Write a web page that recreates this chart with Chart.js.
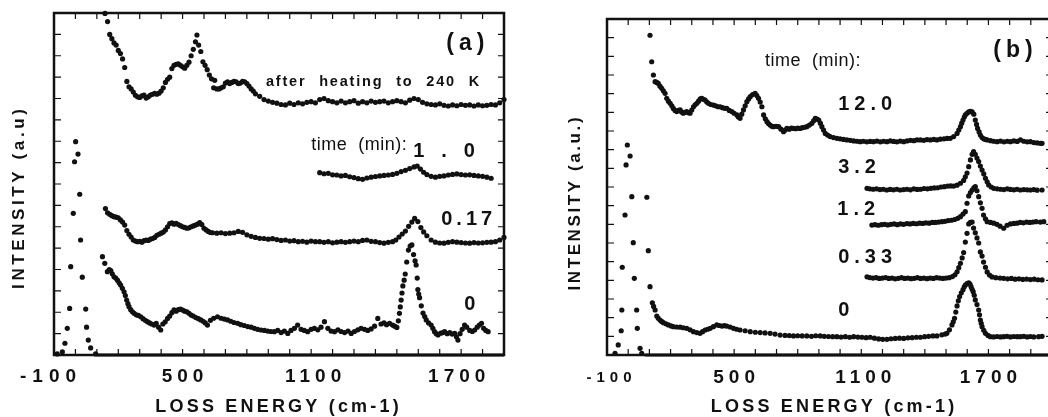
<!DOCTYPE html>
<html>
<head>
<meta charset="utf-8">
<script src="https://cdn.jsdelivr.net/npm/chart.js@4.4.0/dist/chart.umd.min.js"></script>
<style>
  html, body { margin: 0; padding: 0; background: #fff; overflow: hidden; width: 1048px; height: 417px; }
  .panel { position: absolute; top: 0; height: 417px; }
  #wrapA { left: 0; width: 520px; }
  #wrapB { left: 520px; width: 540px; }
</style>
</head>
<body>
<div class="panel" id="wrapA"><canvas id="panelA" width="520" height="417"></canvas></div>
<div class="panel" id="wrapB"><canvas id="panelB" width="540" height="417"></canvas></div>
<script>
// ---------- axis ticks ----------
const xTickValues = [-100, 500, 1100, 1700];
const xTickLabels = ['-100', '500', '1100', '1700'];

// ---------- panel (a): [loss energy cm-1, intensity a.u.] ----------
const elasticA = [[-85,0.05],[-61,0.15],[-49,0.55],[-38,1.25],[-27,2.18],[-22,4.13],[-10,6.63],[-4,9.04],[1,9.98],[12,9.4],[20,7.52],[24,5.38],[32,3.64],[48,2.15],[52,1.3],[60,0.7],[71,0.33],[94,0.05]];

const after240K = [[138,15.98],[150,15.6],[160,15.0],[170,14.8],[180,14.6],[190,14.5],[200,14.25],[210,14.1],[220,13.85],[230,13.45],[240,12.8],[250,12.55],[260,12.45],[270,12.3],[280,12.15],[290,12.08],[300,12.05],[310,12.12],[320,12.16],[330,12.02],[340,12.08],[350,12.16],[360,12.2],[370,12.24],[380,12.2],[390,12.25],[400,12.35],[410,12.5],[420,12.75],[430,12.9],[440,13.0],[450,13.4],[460,13.55],[470,13.6],[480,13.62],[490,13.55],[500,13.48],[510,13.42],[520,13.55],[530,13.7],[540,14.0],[550,14.3],[560,14.65],[567,14.97],[575,14.5],[585,14.2],[595,13.72],[605,13.55],[615,13.35],[625,13.1],[635,12.92],[645,12.5],[650,12.85],[660,12.45],[670,12.45],[680,12.5],[690,12.55],[700,12.72],[710,12.78],[720,12.7],[730,12.75],[740,12.8],[750,12.78],[760,12.7],[770,12.72],[780,12.8],[790,12.78],[800,12.7],[810,12.58],[820,12.45],[830,12.35],[840,12.22],[860,12.1],[880,11.95],[900,11.88],[920,11.82],[940,11.78],[960,11.72],[980,11.7],[1000,11.78],[1020,11.72],[1040,11.8],[1060,11.75],[1080,11.82],[1100,11.85],[1120,11.8],[1140,11.95],[1160,12.0],[1180,11.9],[1200,11.85],[1220,11.8],[1240,11.88],[1260,11.8],[1280,11.85],[1300,11.9],[1320,11.78],[1340,11.85],[1360,11.8],[1380,11.88],[1400,11.82],[1420,11.85],[1440,11.88],[1460,11.8],[1480,11.85],[1500,11.9],[1520,11.85],[1540,11.8],[1560,11.92],[1580,12.0],[1600,11.95],[1620,11.82],[1640,11.75],[1660,11.72],[1680,11.7],[1700,11.75],[1720,11.68],[1740,11.65],[1760,11.7],[1780,11.66],[1800,11.72],[1820,11.68],[1840,11.7],[1860,11.65],[1880,11.7],[1900,11.66],[1920,11.68],[1940,11.72],[1960,11.7],[1980,11.8],[2000,11.95]];

const time10A = [[1140,8.53],[1160,8.48],[1180,8.5],[1200,8.43],[1220,8.42],[1240,8.38],[1260,8.4],[1280,8.34],[1300,8.3],[1320,8.25],[1340,8.22],[1360,8.28],[1380,8.32],[1400,8.35],[1420,8.38],[1440,8.4],[1460,8.42],[1480,8.45],[1500,8.5],[1520,8.58],[1540,8.64],[1560,8.72],[1580,8.8],[1595,8.84],[1610,8.7],[1625,8.55],[1640,8.44],[1660,8.36],[1680,8.32],[1700,8.36],[1720,8.38],[1740,8.42],[1760,8.45],[1780,8.47],[1800,8.44],[1820,8.42],[1840,8.43],[1860,8.4],[1880,8.38],[1900,8.36],[1920,8.32],[1940,8.27]];

const time017A = [[140,6.85],[150,6.65],[160,6.58],[170,6.52],[180,6.47],[190,6.45],[200,6.42],[210,6.32],[220,6.22],[230,6.08],[240,5.82],[250,5.65],[260,5.52],[270,5.38],[280,5.33],[290,5.3],[300,5.32],[310,5.28],[320,5.35],[330,5.38],[340,5.36],[350,5.42],[360,5.45],[370,5.5],[380,5.6],[390,5.65],[400,5.7],[410,5.75],[420,5.85],[430,6.0],[440,6.15],[450,6.18],[460,6.12],[470,6.16],[480,6.1],[490,6.05],[500,6.0],[510,5.97],[520,5.93],[530,5.95],[540,6.0],[550,6.04],[560,6.08],[570,6.12],[580,6.2],[590,6.1],[600,5.93],[610,5.85],[620,5.78],[630,5.73],[640,5.72],[660,5.7],[680,5.72],[700,5.68],[720,5.7],[740,5.72],[760,5.78],[780,5.74],[800,5.62],[820,5.55],[840,5.5],[860,5.46],[880,5.45],[900,5.42],[920,5.44],[940,5.4],[960,5.36],[980,5.38],[1000,5.33],[1020,5.35],[1040,5.3],[1060,5.32],[1080,5.28],[1100,5.33],[1120,5.3],[1140,5.3],[1160,5.27],[1180,5.3],[1200,5.25],[1220,5.28],[1240,5.3],[1260,5.27],[1280,5.3],[1300,5.33],[1320,5.3],[1340,5.36],[1360,5.38],[1380,5.32],[1400,5.3],[1420,5.26],[1440,5.23],[1460,5.27],[1480,5.3],[1495,5.38],[1510,5.52],[1525,5.66],[1540,5.8],[1555,6.02],[1570,6.22],[1583,6.39],[1598,6.24],[1612,5.96],[1625,5.76],[1640,5.58],[1660,5.38],[1680,5.28],[1700,5.24],[1720,5.23],[1740,5.27],[1760,5.3],[1780,5.28],[1800,5.26],[1820,5.24],[1840,5.23],[1860,5.26],[1880,5.24],[1900,5.25],[1920,5.27],[1940,5.28],[1960,5.3],[1980,5.38],[2000,5.5]];

const time0A = [[126,4.6],[137,4.29],[149,3.9],[158,4.0],[165,3.95],[172,3.8],[180,3.66],[188,3.6],[196,3.5],[204,3.38],[211,3.27],[219,3.12],[227,2.96],[233,2.78],[239,2.57],[245,2.4],[250,2.26],[258,2.12],[266,2.02],[274,1.95],[284,1.88],[294,1.85],[305,1.79],[315,1.7],[326,1.62],[336,1.56],[346,1.5],[356,1.45],[367,1.4],[377,1.48],[388,1.3],[398,1.17],[408,1.45],[419,1.55],[430,1.71],[440,1.82],[450,1.98],[460,2.11],[470,2.05],[480,2.12],[490,2.15],[500,2.1],[510,2.05],[520,2.02],[530,1.95],[540,1.87],[550,1.82],[562,1.75],[574,1.7],[585,1.64],[596,1.58],[606,1.5],[616,1.4],[630,1.62],[645,1.72],[663,1.79],[680,1.72],[695,1.68],[710,1.64],[725,1.58],[740,1.52],[757,1.48],[772,1.42],[788,1.38],[804,1.33],[820,1.3],[835,1.25],[850,1.2],[866,1.17],[882,1.15],[897,1.12],[912,1.1],[928,1.09],[944,1.15],[960,1.05],[975,1.12],[991,1.01],[1006,1.15],[1022,1.25],[1037,1.4],[1053,1.2],[1068,1.15],[1084,1.09],[1100,1.2],[1115,1.25],[1131,1.18],[1146,1.3],[1162,1.56],[1178,1.25],[1193,1.12],[1209,1.09],[1225,1.18],[1240,1.1],[1256,1.05],[1272,1.12],[1287,1.01],[1302,1.1],[1318,1.18],[1333,1.25],[1349,1.2],[1364,1.15],[1380,1.22],[1396,1.35],[1411,1.71],[1426,1.45],[1440,1.5],[1452,1.42],[1466,1.48],[1480,1.4],[1490,1.35],[1500,1.29],[1507,1.6],[1512,1.95],[1516,2.25],[1520,2.57],[1524,2.9],[1528,3.23],[1534,3.5],[1539,3.79],[1546,4.35],[1554,4.91],[1562,5.1],[1570,5.15],[1578,4.7],[1585,4.4],[1590,4.21],[1595,3.6],[1598,3.06],[1602,2.85],[1606,2.68],[1614,2.3],[1622,1.96],[1630,1.8],[1637,1.64],[1648,1.5],[1660,1.4],[1668,1.25],[1676,1.09],[1684,1.0],[1692,0.94],[1705,1.02],[1715,1.05],[1723,1.09],[1735,1.0],[1747,1.05],[1758,0.98],[1770,1.01],[1778,0.85],[1785,0.7],[1795,1.0],[1805,1.2],[1816,1.4],[1826,1.3],[1840,1.15],[1852,1.1],[1863,1.17],[1875,1.3],[1885,1.4],[1895,1.48],[1905,1.25],[1915,1.15],[1926,1.09]];

const zeroLineA = [[100,0],[2000,0]];

// ---------- panel (b): [loss energy cm-1, intensity a.u.] ----------
const elasticB = [[-62,0.09],[-47,0.54],[-33,1.3],[-30,2.41],[-28,4.7],[-15,7.5],[-10,10.18],[-4,11.25],[9,10.66],[17,8.48],[24,6.02],[29,4.11],[40,2.41],[43,1.43],[56,0.36],[64,0.09]];

const time120B = [[103,17.13],[111,15.71],[119,15.0],[127,14.64],[135,14.6],[142,14.55],[150,14.4],[158,14.29],[166,14.15],[174,14.02],[182,13.75],[190,13.6],[198,13.48],[206,13.35],[213,13.21],[221,13.1],[229,13.04],[237,13.1],[245,13.13],[252,13.02],[260,12.95],[268,13.0],[276,13.04],[284,12.98],[292,12.95],[300,13.12],[308,13.3],[316,13.4],[324,13.48],[332,13.6],[340,13.72],[347,13.75],[355,13.7],[363,13.66],[371,13.55],[379,13.48],[390,13.42],[402,13.39],[413,13.35],[424,13.3],[434,13.3],[445,13.25],[455,13.22],[465,13.21],[477,13.1],[489,13.04],[500,12.95],[513,12.86],[520,12.75],[528,12.68],[536,12.9],[544,13.13],[552,13.35],[560,13.57],[568,13.72],[576,13.84],[587,13.95],[599,14.02],[607,13.9],[615,13.75],[623,13.55],[631,13.3],[639,12.86],[647,12.65],[655,12.5],[662,12.4],[670,12.32],[678,12.25],[686,12.23],[698,12.25],[710,12.23],[721,12.1],[733,11.96],[741,12.05],[749,12.14],[760,12.1],[770,12.16],[780,12.14],[790,12.12],[800,12.15],[812,12.14],[822,12.18],[833,12.2],[843,12.23],[855,12.32],[867,12.41],[875,12.55],[883,12.68],[891,12.64],[899,12.59],[907,12.42],[914,12.23],[922,12.05],[930,11.87],[941,11.78],[953,11.7],[969,11.65],[985,11.61],[1000,11.58],[1016,11.55],[1032,11.52],[1048,11.5],[1064,11.47],[1080,11.45],[1095,11.43],[1110,11.45],[1126,11.42],[1142,11.44],[1158,11.43],[1174,11.46],[1190,11.42],[1205,11.45],[1221,11.43],[1237,11.47],[1253,11.44],[1268,11.42],[1284,11.46],[1300,11.43],[1316,11.47],[1332,11.5],[1348,11.48],[1363,11.52],[1379,11.52],[1395,11.5],[1410,11.54],[1426,11.52],[1442,11.55],[1457,11.52],[1473,11.56],[1490,11.58],[1505,11.6],[1520,11.61],[1536,11.7],[1552,11.87],[1560,12.05],[1568,12.23],[1574,12.42],[1580,12.59],[1586,12.75],[1591,12.86],[1599,12.95],[1607,13.02],[1615,13.05],[1623,13.02],[1631,12.9],[1638,12.59],[1644,12.35],[1649,12.14],[1656,11.95],[1662,11.78],[1670,11.65],[1678,11.58],[1686,11.55],[1694,11.52],[1710,11.48],[1725,11.45],[1741,11.43],[1757,11.46],[1773,11.42],[1789,11.45],[1804,11.43],[1820,11.47],[1836,11.44],[1851,11.52],[1867,11.45],[1883,11.42],[1898,11.43],[1914,11.38],[1930,11.36],[1945,11.34],[1953,11.34]];

const time32B = [[1127,8.93],[1140,8.9],[1156,8.88],[1172,8.9],[1188,8.86],[1204,8.88],[1220,8.84],[1236,8.87],[1252,8.85],[1268,8.88],[1284,8.84],[1300,8.86],[1316,8.88],[1332,8.85],[1348,8.9],[1364,8.87],[1380,8.88],[1396,8.92],[1412,8.9],[1428,8.93],[1444,8.95],[1460,8.96],[1476,9.0],[1492,9.02],[1508,9.05],[1522,9.06],[1536,9.05],[1552,9.1],[1568,9.2],[1583,9.35],[1591,9.55],[1599,9.75],[1607,10.09],[1615,10.45],[1623,10.75],[1630,10.89],[1638,10.75],[1646,10.55],[1654,10.36],[1662,10.12],[1670,9.91],[1678,9.7],[1686,9.47],[1694,9.28],[1701,9.11],[1713,9.0],[1725,8.93],[1741,8.9],[1757,8.88],[1773,8.86],[1789,8.9],[1804,8.87],[1820,8.85],[1835,8.88],[1851,8.84],[1867,8.86],[1883,8.85],[1898,8.84],[1914,8.86],[1930,8.83],[1953,8.84]];

const time12B = [[1150,6.96],[1165,6.98],[1180,6.95],[1195,6.98],[1210,7.0],[1225,6.97],[1240,7.0],[1255,7.02],[1270,6.98],[1285,7.02],[1300,7.0],[1315,7.04],[1330,7.02],[1345,7.05],[1360,7.03],[1375,7.06],[1390,7.05],[1405,7.08],[1420,7.06],[1435,7.1],[1450,7.1],[1465,7.12],[1480,7.14],[1495,7.16],[1510,7.2],[1525,7.22],[1540,7.26],[1555,7.32],[1568,7.41],[1580,7.55],[1591,7.68],[1599,8.13],[1607,8.52],[1615,8.7],[1623,8.84],[1631,8.95],[1638,9.02],[1646,8.8],[1654,8.48],[1662,8.15],[1670,7.86],[1677,7.5],[1686,7.3],[1694,7.14],[1710,7.1],[1725,7.06],[1740,7.0],[1755,6.9],[1772,6.79],[1788,6.95],[1804,7.02],[1820,7.05],[1835,7.06],[1850,7.1],[1865,7.08],[1880,7.12],[1895,7.1],[1910,7.12],[1925,7.14],[1945,7.12],[1961,7.14]];

const time033B = [[1127,4.19],[1140,4.15],[1155,4.12],[1170,4.14],[1185,4.1],[1200,4.12],[1215,4.15],[1230,4.1],[1245,4.12],[1260,4.08],[1275,4.11],[1290,4.14],[1305,4.1],[1320,4.12],[1335,4.09],[1350,4.11],[1365,4.14],[1380,4.1],[1395,4.12],[1410,4.09],[1425,4.12],[1440,4.1],[1455,4.14],[1470,4.12],[1485,4.1],[1500,4.12],[1515,4.14],[1530,4.2],[1542,4.3],[1552,4.46],[1560,4.68],[1568,4.91],[1576,5.2],[1583,5.49],[1591,6.05],[1599,6.52],[1607,7.02],[1615,7.1],[1623,7.12],[1630,6.8],[1638,6.55],[1646,6.27],[1654,6.0],[1662,5.52],[1670,5.3],[1677,4.98],[1686,4.7],[1694,4.45],[1705,4.28],[1717,4.18],[1735,4.14],[1755,4.12],[1772,4.11],[1790,4.08],[1808,4.1],[1826,4.06],[1844,4.08],[1862,4.05],[1880,4.07],[1898,4.04],[1916,4.06],[1934,4.03],[1953,4.02]];

const time0B = [[88,8.45],[95,5.59],[103,3.66],[114,2.8],[120,2.6],[127,2.41],[135,2.09],[142,1.97],[150,1.87],[158,1.8],[166,1.73],[178,1.67],[190,1.61],[202,1.56],[213,1.52],[229,1.5],[245,1.49],[260,1.46],[276,1.43],[292,1.35],[308,1.25],[324,1.2],[339,1.16],[351,1.25],[363,1.34],[375,1.38],[387,1.43],[402,1.52],[418,1.61],[430,1.58],[442,1.55],[454,1.57],[465,1.55],[481,1.5],[497,1.43],[512,1.38],[528,1.34],[552,1.3],[576,1.25],[600,1.22],[623,1.2],[646,1.18],[670,1.16],[693,1.12],[717,1.07],[740,1.05],[760,1.04],[780,1.02],[800,1.03],[821,1.02],[843,1.02],[865,1.0],[885,1.03],[906,1.02],[925,1.0],[945,0.99],[965,0.98],[985,0.98],[1005,0.96],[1025,0.98],[1045,0.95],[1064,0.98],[1084,0.96],[1103,0.95],[1123,0.93],[1142,0.95],[1162,0.9],[1182,0.86],[1201,0.84],[1221,0.84],[1240,0.87],[1260,0.89],[1280,0.9],[1300,0.89],[1320,0.92],[1340,0.93],[1360,0.95],[1379,0.95],[1399,0.98],[1418,1.0],[1438,1.02],[1457,1.02],[1480,1.08],[1496,1.12],[1504,1.16],[1516,1.35],[1528,1.61],[1534,1.78],[1540,1.97],[1546,2.3],[1552,2.63],[1558,2.9],[1564,3.13],[1572,3.33],[1580,3.5],[1586,3.65],[1591,3.75],[1599,3.82],[1607,3.87],[1613,3.8],[1618,3.66],[1623,3.52],[1628,3.39],[1633,3.2],[1638,2.95],[1646,2.7],[1654,2.41],[1658,2.15],[1662,1.87],[1666,1.7],[1670,1.52],[1678,1.32],[1686,1.16],[1698,1.05],[1709,0.98],[1725,0.97],[1741,0.99],[1757,0.97],[1772,0.98],[1788,1.0],[1804,0.97],[1820,0.99],[1836,0.98],[1851,0.98],[1867,1.0],[1883,0.97],[1898,0.99],[1914,0.97],[1937,0.98],[1953,1.0]];

const zeroLineB = [[80,0],[2000,0]];

// ---------- helpers ----------
const INK = '#111';
const FONT = '"Liberation Sans", Arial, Helvetica, sans-serif';

function toXY(pairs) { return pairs.map(p => ({ x: p[0], y: p[1] })); }

function dotSeries(label, pairs) {
  return {
    label, data: toXY(pairs), showLine: false,
    pointRadius: 2.6, pointHoverRadius: 2.6, pointBorderWidth: 0,
    pointBackgroundColor: INK, clip: 6
  };
}

function zeroSeries(label, pairs) {
  return {
    label, data: toXY(pairs), showLine: true, borderColor: INK, borderWidth: 3,
    pointRadius: 0, clip: 6
  };
}

const bold = (size, spacing, extra) => Object.assign({ weight: 'bold', size, spacing }, extra || {});
const plain = (size, spacing) => ({ weight: 'normal', size, spacing });

// text layout per panel (tick labels, axis titles, notes anchored at [energy, intensity])
const textLayout = {
  panelA: {
    tickY: 377,
    tickFonts: [bold(19, 6), bold(19, 5), bold(19, 5), bold(19, 5)],
    tickShift: [-6, 0, 2, 17],
    xTitle: { text: 'LOSS ENERGY (cm-1)', y: 407, dx: -2, font: bold(18, 3.2) },
    yTitle: { text: 'INTENSITY (a.u)', x: 19, y: 199, font: bold(17, 3.6) },
    notes: [
      { text: '(a)', at: [1731, 14.55], font: bold(23, 5) },
      { text: 'after heating to 240 K', at: [889, 12.77], font: bold(14.5, 1.8, { wordSpacing: 7 }) },
      { text: 'time  (min):', at: [1100, 9.82], font: plain(18, 0.5) },
      { text: '1.0', at: [1576, 9.5], font: bold(20, 17) },
      { text: '0.17', at: [1707, 6.36], font: bold(20, 4) },
      { text: '0', at: [1815, 2.34], font: bold(20, 0) }
    ]
  },
  panelB: {
    tickY: 378,
    tickFonts: [bold(15, 5), bold(19, 5), bold(19, 5), bold(19, 5)],
    tickShift: [2, 0, 2, 0],
    xTitle: { text: 'LOSS ENERGY (cm-1)', y: 407, dx: 3, font: bold(18, 3.2) },
    yTitle: { text: 'INTENSITY (a.u.)', x: 55, y: 204, font: bold(17, 2.6) },
    notes: [
      { text: '(b)', at: [1723, 16.28], font: bold(23, 5) },
      { text: 'time  (min):', at: [646, 15.75], font: plain(18, 0.5) },
      { text: '12.0', at: [991, 13.44], font: bold(20, 5) },
      { text: '3.2', at: [991, 10.02], font: bold(20, 5) },
      { text: '1.2', at: [987, 7.77], font: bold(20, 5) },
      { text: '0.33', at: [991, 5.25], font: bold(20, 5) },
      { text: '0', at: [991, 2.36], font: bold(20, 0) }
    ]
  }
};

// frame around the plot with inward tick marks on all four sides
const framePlugin = {
  id: 'frame',
  afterDatasetsDraw(chart) {
    const { ctx, chartArea: { left, top, right, bottom }, scales: { x, y } } = chart;
    const len = 6;
    ctx.save();
    ctx.strokeStyle = INK;
    ctx.lineWidth = 2.5;
    ctx.strokeRect(left, top, right - left, bottom - top);
    ctx.lineWidth = 1.2;
    ctx.beginPath();
    x.ticks.forEach(t => {
      const px = x.getPixelForValue(t.value);
      if (px <= left + 2 || px >= right - 2) return;
      ctx.moveTo(px, bottom); ctx.lineTo(px, bottom - len);
      ctx.moveTo(px, top); ctx.lineTo(px, top + len);
    });
    y.ticks.forEach(t => {
      const py = y.getPixelForValue(t.value);
      if (py <= top + 2 || py >= bottom - 2) return;
      ctx.moveTo(left, py); ctx.lineTo(left + len + 1, py);
      ctx.moveTo(right, py); ctx.lineTo(right - len, py);
    });
    ctx.stroke();
    ctx.restore();
  }
};

function setFont(ctx, f) {
  ctx.font = f.weight + ' ' + f.size + 'px ' + FONT;
  ctx.letterSpacing = (f.spacing || 0) + 'px';
  ctx.wordSpacing = (f.wordSpacing || 0) + 'px';
}

const textPlugin = {
  id: 'texts',
  afterDraw(chart) {
    const o = textLayout[chart.canvas.id];
    const { ctx, scales: { x, y }, chartArea } = chart;
    ctx.save();
    ctx.fillStyle = INK;
    ctx.textBaseline = 'middle';
    ctx.textAlign = 'center';
    xTickValues.forEach((v, i) => {
      const f = o.tickFonts[i];
      setFont(ctx, f);
      const px = x.getPixelForValue(v) + o.tickShift[i] + f.spacing / 2;
      ctx.fillText(xTickLabels[i], px, o.tickY);
    });
    setFont(ctx, o.xTitle.font);
    ctx.fillText(o.xTitle.text, (chartArea.left + chartArea.right) / 2 + o.xTitle.dx + o.xTitle.font.spacing / 2, o.xTitle.y);
    ctx.save();
    setFont(ctx, o.yTitle.font);
    ctx.translate(o.yTitle.x, o.yTitle.y);
    ctx.rotate(-Math.PI / 2);
    ctx.fillText(o.yTitle.text, o.yTitle.font.spacing / 2, 0);
    ctx.restore();
    ctx.textAlign = 'left';
    o.notes.forEach(n => {
      setFont(ctx, n.font);
      ctx.fillText(n.text, x.getPixelForValue(n.at[0]), y.getPixelForValue(n.at[1]));
    });
    ctx.restore();
  }
};

function panelOptions(cfg) {
  return {
    responsive: false, animation: false, devicePixelRatio: 1,
    layout: { padding: cfg.padding },
    events: [],
    plugins: { legend: { display: false }, tooltip: { enabled: false } },
    scales: {
      x: {
        type: 'linear', min: -100, max: 2000,
        ticks: { stepSize: 100, display: false },
        grid: { display: false }, border: { display: false },
        afterFit(s) { s.height = cfg.xHeight; }
      },
      y: {
        type: 'linear', min: 0, max: cfg.yMax,
        ticks: { stepSize: 1, display: false },
        grid: { display: false }, border: { display: false },
        afterFit(s) { s.width = cfg.yWidth; }
      }
    }
  };
}

// ---------- panel (a) ----------
new Chart(document.getElementById('panelA'), {
  type: 'scatter',
  data: {
    datasets: [
      zeroSeries('baseline', zeroLineA),
      dotSeries('elastic', elasticA),
      dotSeries('after heating to 240 K', after240K),
      dotSeries('1.0 min', time10A),
      dotSeries('0.17 min', time017A),
      dotSeries('0 min', time0A)
    ]
  },
  options: panelOptions({ padding: { left: 0, top: 13, right: 16, bottom: 0 }, xHeight: 62, yWidth: 54, yMax: 16 }),
  plugins: [framePlugin, textPlugin]
});

// ---------- panel (b) ----------
new Chart(document.getElementById('panelB'), {
  type: 'scatter',
  data: {
    datasets: [
      zeroSeries('baseline', zeroLineB),
      dotSeries('elastic', elasticB),
      dotSeries('12.0 min', time120B),
      dotSeries('3.2 min', time32B),
      dotSeries('1.2 min', time12B),
      dotSeries('0.33 min', time033B),
      dotSeries('0 min', time0B)
    ]
  },
  options: panelOptions({ padding: { left: 0, top: 19, right: 8, bottom: 0 }, xHeight: 62, yWidth: 87, yMax: 18 }),
  plugins: [framePlugin, textPlugin]
});
</script>
</body>
</html>
